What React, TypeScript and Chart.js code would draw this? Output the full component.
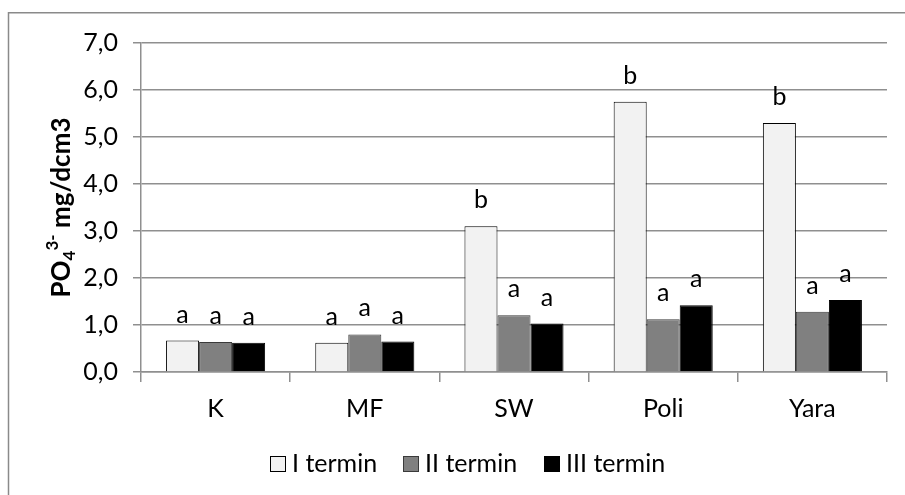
import React, { useEffect, useRef } from "react";
import { Chart, registerables } from "chart.js";

Chart.register(...registerables);

// Phosphate content per treatment and sampling term
const categories = ["K", "MF", "SW", "Poli", "Yara"];
const seriesNames = ["I termin", "II termin", "III termin"];
const termI = [0.67, 0.62, 3.1, 5.75, 5.3];
const termII = [0.64, 0.8, 1.21, 1.12, 1.28];
const termIII = [0.62, 0.65, 1.03, 1.42, 1.53];
// Significance group letters above each bar
const lettersI = ["a", "a", "b", "b", "b"];
const lettersII = ["a", "a", "a", "a", "a"];
const lettersIII = ["a", "a", "a", "a", "a"];
const yTicks = [0, 1, 2, 3, 4, 5, 6, 7];

const FONT = "Lato, 'Open Sans', sans-serif";
const FS = 25;
const GRID = "#8f8f8f";
const fills = ["#f2f2f2", "#808080", "#000000"];
const borders = ["#000000", "#3a3a3a", "#000000"];

const letterPlugin = {
  id: "letterLabels",
  afterDatasetsDraw(chart: any) {
    const ctx = chart.ctx;
    const sets = [lettersI, lettersII, lettersIII];
    ctx.save();
    ctx.font = `${FS}px ${FONT}`;
    ctx.fillStyle = "#000";
    ctx.textAlign = "center";
    ctx.textBaseline = "middle";
    chart.data.datasets.forEach((_: any, di: number) => {
      const meta = chart.getDatasetMeta(di);
      meta.data.forEach((bar: any, i: number) => {
        ctx.fillText(sets[di][i], bar.x, bar.y - 26);
      });
    });
    ctx.restore();
  },
};

const decorPlugin = {
  id: "decor",
  afterDraw(chart: any) {
    const ctx = chart.ctx;
    const area = chart.chartArea;
    ctx.save();
    // outer frame
    ctx.strokeStyle = "#8a8a8a";
    ctx.lineWidth = 1.5;
    ctx.beginPath();
    ctx.moveTo(8.5, 600);
    ctx.lineTo(8.5, 12.75);
    ctx.lineTo(1000, 12.75);
    ctx.stroke();

    // rotated axis title: PO4(sub) 3-(sup) mg/dcm3, centred on the plot area
    ctx.translate(70, (area.top + area.bottom) / 2);
    ctx.rotate(-Math.PI / 2);
    ctx.fillStyle = "#000";
    ctx.textBaseline = "alphabetic";
    ctx.textAlign = "left";
    const big = `bold 26px ${FONT}`;
    const small = `bold 17px ${FONT}`;
    ctx.font = big;
    const wPO = ctx.measureText("PO").width;
    const wRest = ctx.measureText(" mg/dcm3").width;
    ctx.font = small;
    const w4 = ctx.measureText("4").width;
    const w3 = ctx.measureText("3-").width;
    const total = wPO + w4 + w3 + wRest;
    let x = -total / 2;
    ctx.font = big;
    ctx.fillText("PO", x, 0);
    x += wPO;
    ctx.font = small;
    ctx.fillText("4", x, 5);
    x += w4;
    ctx.fillText("3-", x, -12);
    x += w3;
    ctx.font = big;
    ctx.fillText(" mg/dcm3", x, 0);
    ctx.restore();

    // legend
    ctx.save();
    ctx.font = `${FS}px ${FONT}`;
    ctx.textBaseline = "middle";
    ctx.textAlign = "left";
    const starts = [270, 403, 544];
    const cy = 464;
    seriesNames.forEach((name, i) => {
      const bx = starts[i];
      ctx.fillStyle = fills[i];
      ctx.fillRect(bx, cy - 8, 16, 16);
      ctx.strokeStyle = borders[i];
      ctx.lineWidth = 1;
      ctx.strokeRect(bx + 0.5, cy - 7.5, 15, 15);
      ctx.fillStyle = "#000";
      ctx.fillText(name, bx + 22, cy);
    });
    ctx.restore();
  },
};

export default function App() {
  const ref = useRef<HTMLCanvasElement | null>(null);

  useEffect(() => {
    if (!ref.current) return;
    const data = [termI, termII, termIII];
    const chart = new Chart(ref.current, {
      type: "bar",
      data: {
        labels: categories,
        datasets: seriesNames.map((name, i) => ({
          label: name,
          data: data[i],
          backgroundColor: fills[i],
          borderColor: borders[i],
          borderWidth: 1,
          barPercentage: 1,
          categoryPercentage: 0.664,
        })),
      },
      options: {
        animation: false,
        responsive: true,
        maintainAspectRatio: false,
        layout: { padding: { top: 43, right: 18, left: 0, bottom: 0 } },
        plugins: {
          legend: { display: false },
          tooltip: { enabled: false },
        },
        scales: {
          x: {
            grid: {
              offset: true,
              drawOnChartArea: false,
              drawTicks: true,
              tickLength: 10,
              color: GRID,
              lineWidth: 1.5,
            },
            border: { display: true, color: GRID, width: 1.5 },
            ticks: {
              font: { family: FONT, size: FS },
              color: "#000",
              padding: 12,
            },
            afterFit: (s: any) => {
              s.height = 123;
            },
          },
          y: {
            min: 0,
            max: 7,
            afterBuildTicks: (s: any) => {
              s.ticks = yTicks.map((v) => ({ value: v }));
            },
            grid: {
              color: GRID,
              lineWidth: 1.5,
              drawTicks: true,
              tickLength: 8,
            },
            border: { display: true, color: GRID, width: 1.5 },
            ticks: {
              font: { family: FONT, size: FS },
              color: "#000",
              padding: 15,
              callback: (v: any) => Number(v).toFixed(1).replace(".", ","),
            },
            afterFit: (s: any) => {
              s.width = 141;
            },
          },
        },
      },
      plugins: [letterPlugin, decorPlugin],
    });
    return () => chart.destroy();
  }, []);

  return (
    <div style={{ position: "absolute", left: 0, top: 0, width: 905, height: 495 }}>
      <canvas ref={ref} />
    </div>
  );
}
